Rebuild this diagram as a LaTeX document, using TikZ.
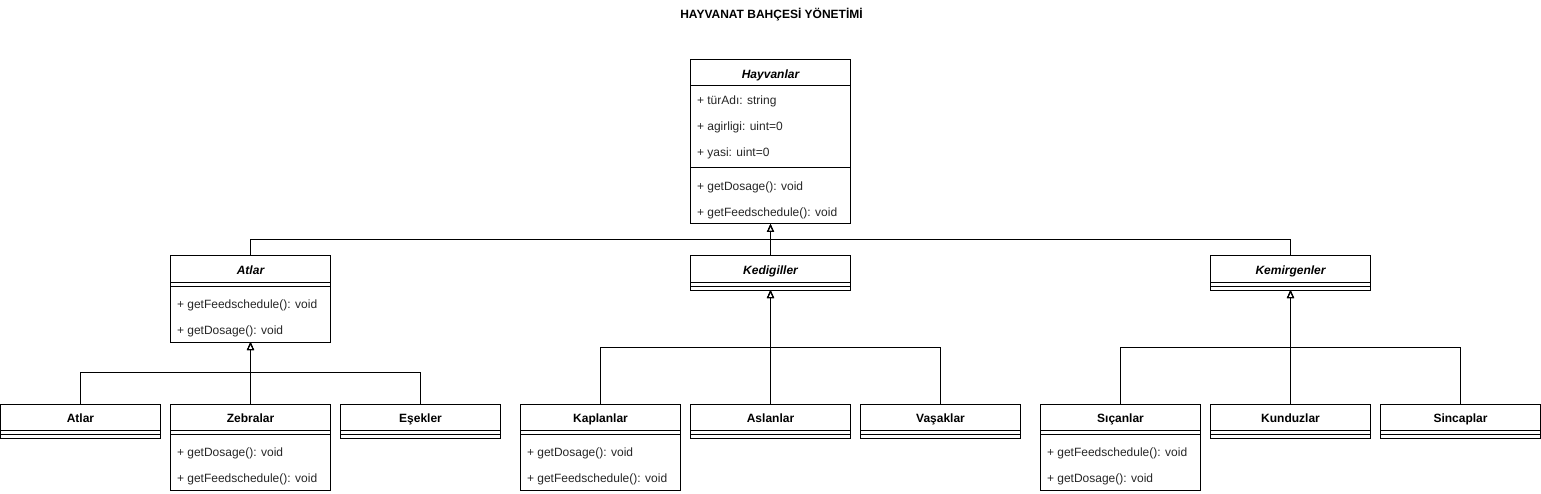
\documentclass[tikz,border=0pt]{standalone}
\usepackage{fontspec}
\setmainfont{Liberation Sans}
\usetikzlibrary{arrows.meta,calc}
\begin{document}
\begin{tikzpicture}[x=1pt,y=-1pt,line width=1pt,
  box/.style={draw,rectangle,minimum width=160pt,inner sep=0pt,outer sep=0pt,anchor=north west},
  ctitle/.style={font=\fontsize{12}{14}\selectfont\bfseries,inner sep=0pt,anchor=base},
  atitle/.style={font=\fontsize{12}{14}\selectfont\bfseries\itshape,inner sep=0pt,anchor=base},
  member/.style={font=\fontsize{12}{14}\selectfont,text=black!85,anchor=base west,inner sep=0pt},
  maintitle/.style={font=\fontsize{12}{14}\selectfont\bfseries,inner sep=0pt,anchor=base},
  inh/.style={-{Triangle[open,length=8pt,width=7pt]}}]
\useasboundingbox (-0.5,0) rectangle (1540.5,494);
\newcommand{\umlbox}[6]{% name, x, y, height, style, title
  \node[box,minimum height=#4pt] (#1) at (#2,#3) {};
  \node[#5] (#1-t) at ($(#1.north)+(0,18.3)$) {#6};
  \draw ($(#1.north west)+(0,26)$) -- ($(#1.north east)+(0,26)$);
  \draw ($(#1.north west)+(0,30)$) -- ($(#1.north east)+(0,30)$);
}
\newcommand{\mem}[4]{% name, box, row-centre offset, text
  \node[member] (#1) at ($(#2.north west)+(6,#3+5.3)$) {#4};
}
\node[maintitle] (title) at (771,18.5) {HAYVANAT BAHÇESİ YÖNETİMİ};

% Hayvanlar
\node[box,minimum height=164pt] (hay) at (690,60) {};
\node[atitle] (hay-t) at ($(hay.north)+(0,18.3)$) {Hayvanlar};
\draw ($(hay.north west)+(0,26)$) -- ($(hay.north east)+(0,26)$);
\draw ($(hay.north west)+(0,108)$) -- ($(hay.north east)+(0,108)$);
\mem{hay1}{hay}{39}{+ türAdı: string}
\mem{hay2}{hay}{65}{+ agirligi: uint=0}
\mem{hay3}{hay}{91}{+ yasi: uint=0}
\mem{hay4}{hay}{125}{+ getDosage(): void}
\mem{hay5}{hay}{151}{+ getFeedschedule(): void}

% second level
\umlbox{atl}{170}{256}{86}{atitle}{Atlar}
\mem{atl1}{atl}{47}{+ getFeedschedule(): void}
\mem{atl2}{atl}{73}{+ getDosage(): void}
\umlbox{ked}{690}{256}{34}{atitle}{Kedigiller}
\umlbox{kem}{1210}{256}{34}{atitle}{Kemirgenler}

% third level
\umlbox{atlar}{0}{404}{34}{ctitle}{Atlar}
\umlbox{zeb}{170}{404}{86}{ctitle}{Zebralar}
\mem{zeb1}{zeb}{47}{+ getDosage(): void}
\mem{zeb2}{zeb}{73}{+ getFeedschedule(): void}
\umlbox{ese}{340}{404}{34}{ctitle}{Eşekler}
\umlbox{kap}{520}{404}{86}{ctitle}{Kaplanlar}
\mem{kap1}{kap}{47}{+ getDosage(): void}
\mem{kap2}{kap}{73}{+ getFeedschedule(): void}
\umlbox{asl}{690}{404}{34}{ctitle}{Aslanlar}
\umlbox{vas}{860}{404}{34}{ctitle}{Vaşaklar}
\umlbox{sic}{1040}{404}{86}{ctitle}{Sıçanlar}
\mem{sic1}{sic}{47}{+ getFeedschedule(): void}
\mem{sic2}{sic}{73}{+ getDosage(): void}
\umlbox{kun}{1210}{404}{34}{ctitle}{Kunduzlar}
\umlbox{sin}{1380}{404}{34}{ctitle}{Sincaplar}

% junctions
\coordinate (j0) at (770,240);
\coordinate (j1) at (250,372.5);
\coordinate (j2) at (770,347);
\coordinate (j3) at (1290,347);

\draw[inh] (atl.north) |- (j0) -| (hay.south);
\draw[inh] (ked.north) -- (hay.south);
\draw[inh] (kem.north) |- (j0) -| (hay.south);

\draw[inh] (atlar.north) |- (j1) -| (atl.south);
\draw[inh] (zeb.north) -- (atl.south);
\draw[inh] (ese.north) |- (j1) -| (atl.south);

\draw[inh] (kap.north) |- (j2) -| (ked.south);
\draw[inh] (asl.north) -- (ked.south);
\draw[inh] (vas.north) |- (j2) -| (ked.south);

\draw[inh] (sic.north) |- (j3) -| (kem.south);
\draw[inh] (kun.north) -- (kem.south);
\draw[inh] (sin.north) |- (j3) -| (kem.south);
\end{tikzpicture}
\end{document}
